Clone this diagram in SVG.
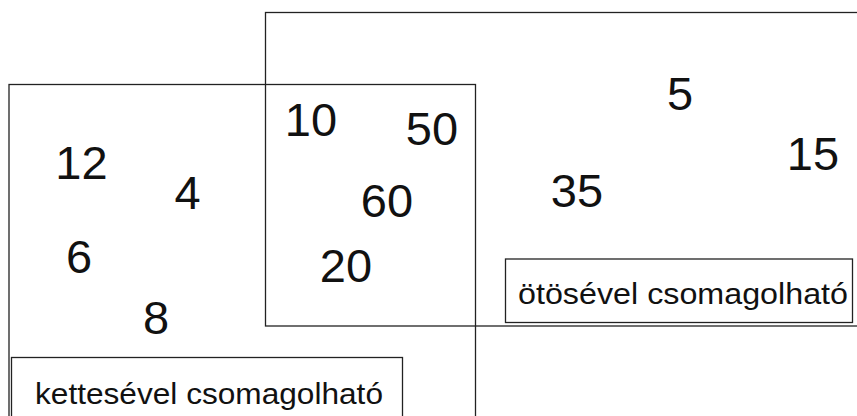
<svg xmlns="http://www.w3.org/2000/svg" width="857" height="416" viewBox="0 0 857 416">
<style>
.set{fill:none;stroke:#222;stroke-width:1.3}
.lbl{fill:#fff;stroke:#222;stroke-width:1.3}
.num{font-family:"Comic Sans MS","Liberation Sans",sans-serif;font-size:47px;fill:#111;text-anchor:middle}
.txt{font-family:"Comic Sans MS","Liberation Sans",sans-serif;font-size:30px;fill:#111}
</style>
<rect width="857" height="416" fill="#fff"/>
<g id="set-five">
<rect class="set" x="265.5" y="12.5" width="620" height="313.5"/>
</g>
<g id="set-two">
<rect class="set" x="9" y="84.5" width="466.5" height="350"/>
</g>
<g id="label-five">
<rect class="lbl" x="505.5" y="259" width="347" height="63.5"/>
<text class="txt" x="518" y="304" textLength="330" lengthAdjust="spacingAndGlyphs">ötösével csomagolható</text>
</g>
<g id="label-two">
<rect class="lbl" x="11.5" y="357.5" width="391" height="70"/>
<text class="txt" x="35" y="404" textLength="348" lengthAdjust="spacingAndGlyphs">kettesével csomagolható</text>
</g>
<g id="n12"><text class="num" x="81.5" y="179">12</text></g>
<g id="n4"><text class="num" x="187.5" y="209">4</text></g>
<g id="n6"><text class="num" x="79" y="273">6</text></g>
<g id="n8"><text class="num" x="156" y="334">8</text></g>
<g id="n10"><text class="num" x="311" y="136">10</text></g>
<g id="n50"><text class="num" x="432" y="145">50</text></g>
<g id="n60"><text class="num" x="387" y="217">60</text></g>
<g id="n20"><text class="num" x="346" y="282">20</text></g>
<g id="n5"><text class="num" x="680" y="110">5</text></g>
<g id="n15"><text class="num" x="813" y="170">15</text></g>
<g id="n35"><text class="num" x="577" y="207">35</text></g>
<g id="connectors"></g>
</svg>
